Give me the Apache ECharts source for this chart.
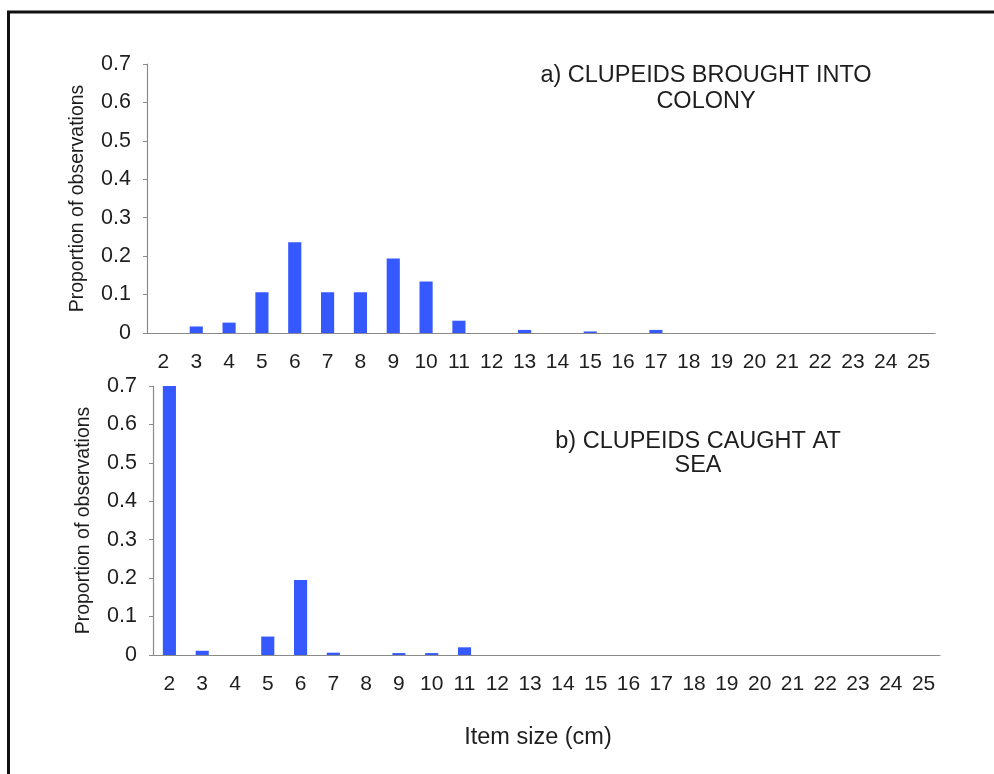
<!DOCTYPE html>
<html>
<head>
<meta charset="utf-8">
<script src="https://cdn.jsdelivr.net/npm/echarts@6/dist/echarts.min.js"></script>
<style>
html,body{margin:0;padding:0;background:#fff;}
#chart{width:994px;height:774px;}
</style>
</head>
<body>
<div id="chart"></div>
<script>
const categories = ['2','3','4','5','6','7','8','9','10','11','12','13','14','15','16','17','18','19','20','21','22','23','24','25'];
const colonyValues = [0, 0.017, 0.027, 0.106, 0.236, 0.106, 0.106, 0.194, 0.134, 0.032, 0, 0.008, 0, 0.004, 0, 0.008, 0, 0, 0, 0, 0, 0, 0, 0];
const seaValues = [0.70, 0.011, 0, 0.048, 0.195, 0.006, 0, 0.005, 0.005, 0.02, 0, 0, 0, 0, 0, 0, 0, 0, 0, 0, 0, 0, 0, 0];
const yTicks = {min: 0, max: 0.7, interval: 0.1};
const titleA = 'a) CLUPEIDS BROUGHT INTO\nCOLONY';
const titleB = 'b) CLUPEIDS CAUGHT AT\nSEA';
const yName = 'Proportion of observations';
const xName = 'Item size (cm)';

const FONT = '"Liberation Sans", Arial, sans-serif';
const axisGrey = '#8a8a8a';
const barColor = '#3558ff';
const textColor = '#1e1e1e';

function xAxis(gridIndex) {
  return {
    type: 'category', gridIndex: gridIndex, data: categories,
    boundaryGap: true,
    axisLine: {lineStyle: {color: axisGrey, width: 1.2}},
    axisTick: {interval: 0, length: 4, lineStyle: {color: axisGrey}},
    axisLabel: {interval: 0, color: textColor, fontSize: 21, fontFamily: FONT, margin: 19, hideOverlap: false}
  };
}
function yAxis(gridIndex) {
  return {
    type: 'value', gridIndex: gridIndex, min: yTicks.min, max: yTicks.max, interval: yTicks.interval,
    name: yName, nameLocation: 'middle', nameGap: 59,
    nameTextStyle: {color: textColor, fontSize: 19.5, fontFamily: FONT},
    splitLine: {show: false},
    axisLine: {show: true, lineStyle: {color: axisGrey, width: 1.2}},
    axisTick: {show: true, length: 4, lineStyle: {color: axisGrey}},
    axisLabel: {color: textColor, fontSize: 21.5, fontFamily: FONT, margin: 16}
  };
}

const chart = echarts.init(document.getElementById('chart'));
chart.setOption({
  backgroundColor: '#fff',
  animation: false,
  title: [
    {text: titleA, left: 706, top: 63, textAlign: 'center', padding: 0,
     textStyle: {fontSize: 23.5, fontWeight: 'normal', color: textColor, fontFamily: FONT, lineHeight: 26}},
    {text: titleB, left: 698, top: 430, textAlign: 'center', padding: 0,
     textStyle: {fontSize: 23.5, fontWeight: 'normal', color: textColor, fontFamily: FONT, lineHeight: 24}}
  ],
  grid: [
    {left: 147, top: 64, right: 59, height: 269, containLabel: false},
    {left: 153, top: 386, right: 54, height: 269, containLabel: false}
  ],
  xAxis: [xAxis(0), xAxis(1)],
  yAxis: [yAxis(0), yAxis(1)],
  series: [
    {type: 'bar', xAxisIndex: 0, yAxisIndex: 0, data: colonyValues, barWidth: '40%', itemStyle: {color: barColor}},
    {type: 'bar', xAxisIndex: 1, yAxisIndex: 1, data: seaValues, barWidth: '40%', itemStyle: {color: barColor}}
  ],
  graphic: [
    {type: 'rect', shape: {x: 8.5, y: 12, width: 1100, height: 900},
     style: {fill: 'none', stroke: '#111', lineWidth: 3}, silent: true},
    {type: 'text', x: 538, y: 738,
     style: {text: xName, fontSize: 23.5, fontFamily: FONT, fill: textColor, textAlign: 'center', textVerticalAlign: 'middle'}}
  ]
});
</script>
</body>
</html>
